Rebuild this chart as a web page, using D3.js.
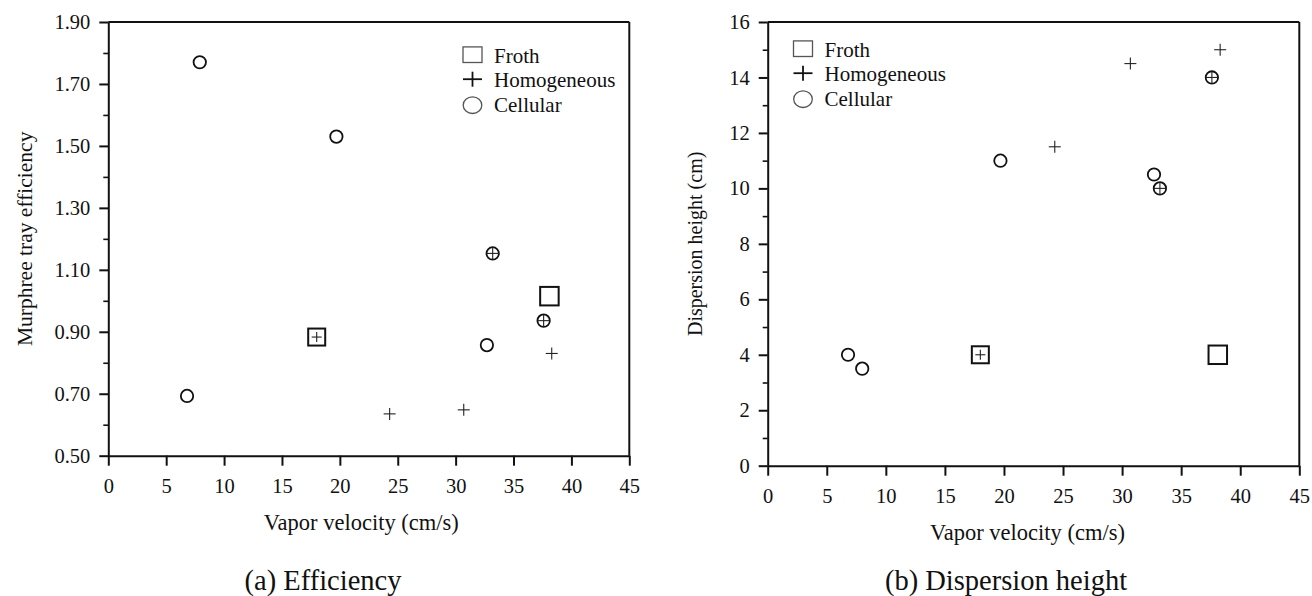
<!DOCTYPE html>
<html>
<head>
<meta charset="utf-8">
<script src="https://cdn.jsdelivr.net/npm/d3@7/dist/d3.min.js"></script>
<style>
  html, body { margin: 0; padding: 0; background: #fff; }
  svg { display: block; }
</style>
</head>
<body>
<svg id="chart" width="1312" height="596"></svg>
<script>
// ---------- data ----------
const legendLabels = ["Froth", "Homogeneous", "Cellular"];
const legendMarks = ["square", "plus", "circle"];

const xTicks = [0, 5, 10, 15, 20, 25, 30, 35, 40, 45];
const effTicks = [0.5, 0.7, 0.9, 1.1, 1.3, 1.5, 1.7, 1.9];
const effMinorTicks = [0.6, 0.8, 1.0, 1.2, 1.4, 1.6, 1.8];
const hTicks = [0, 2, 4, 6, 8, 10, 12, 14, 16];
const hMinorTicks = [1, 3, 5, 7, 9, 11, 13, 15];

// (a) Efficiency
const velA  = [6.8, 7.9, 19.7, 32.7, 33.2, 37.6, 24.3, 30.7, 38.3, 18.0, 38.1];
const effA  = [0.693, 1.77, 1.53, 0.857, 1.153, 0.936, 0.635, 0.648, 0.83, 0.883, 1.015];
const markA = ["circle", "circle", "circle", "circle", "circleplus", "circleplus",
               "plus", "plus", "plus", "squareplus", "square"];

// (b) Dispersion height
const velB  = [6.8, 8.0, 19.7, 32.7, 33.2, 37.6, 24.3, 30.7, 38.3, 18.0, 38.1];
const hB    = [4.0, 3.5, 11.0, 10.5, 10.0, 14.0, 11.5, 14.5, 15.0, 4.0, 4.0];
const markB = ["circle", "circle", "circle", "circle", "circleplus", "circleplus",
               "plus", "plus", "plus", "squareplus", "square"];

// ---------- drawing ----------
const svg = d3.select("#chart");
const INK = "#111";
const SERIF = '"Liberation Serif", "Times New Roman", Times, serif';

function serifText(sel, size) {
  return sel.style("font-family", SERIF).style("font-size", size + "px").attr("fill", INK);
}

function drawMark(g, type) {
  if (type === "circle" || type === "circleplus") {
    g.append("circle").attr("r", 6.2).attr("fill", "none").attr("stroke", INK).attr("stroke-width", 1.8);
  }
  if (type === "square" || type === "squareplus") {
    const s = type === "square" ? 18.5 : 17;
    g.append("rect").attr("x", -s/2).attr("y", -s/2).attr("width", s).attr("height", s)
      .attr("fill", "none").attr("stroke", INK).attr("stroke-width", 2);
  }
  let arm = null;
  if (type === "plus") arm = 6;
  if (type === "circleplus") arm = 6.2;
  if (type === "squareplus") arm = 5;
  if (arm !== null) {
    g.append("line").attr("x1", -arm).attr("x2", arm).attr("y1", 0).attr("y2", 0)
      .attr("stroke", "#222").attr("stroke-width", 1.1);
    g.append("line").attr("x1", 0).attr("x2", 0).attr("y1", -arm).attr("y2", arm)
      .attr("stroke", "#222").attr("stroke-width", 1.1);
  }
}

function panel(cfg) {
  const x = d3.scaleLinear().domain([0, 45]).range([cfg.left, cfg.right]);
  const y = d3.scaleLinear().domain(cfg.yDomain).range([cfg.bottom, cfg.top]);
  const g = svg.append("g");

  // frame (top & right)
  g.append("line").attr("x1", cfg.left).attr("x2", cfg.right).attr("y1", cfg.top).attr("y2", cfg.top)
    .attr("stroke", INK).attr("stroke-width", 2);
  g.append("line").attr("x1", cfg.right).attr("x2", cfg.right).attr("y1", cfg.top).attr("y2", cfg.bottom)
    .attr("stroke", INK).attr("stroke-width", 2);

  // x axis
  const xa = g.append("g").attr("transform", `translate(0,${cfg.bottom})`)
    .call(d3.axisBottom(x).tickValues(xTicks).tickSize(10).tickSizeOuter(0).tickPadding(13)
      .tickFormat(d3.format("d")));
  // y axis minor
  g.append("g").attr("transform", `translate(${cfg.left},0)`)
    .call(d3.axisLeft(y).tickValues(cfg.yMinor).tickSize(5).tickSizeOuter(0).tickFormat(""))
    .call(a => a.select(".domain").remove())
    .call(a => a.selectAll("line").attr("stroke", INK).attr("stroke-width", 1.6));
  // y axis major
  const ya = g.append("g").attr("transform", `translate(${cfg.left},0)`)
    .call(d3.axisLeft(y).tickValues(cfg.yTicks).tickSize(9).tickSizeOuter(0).tickPadding(9)
      .tickFormat(cfg.yFormat));
  [xa, ya].forEach(a => {
    a.select(".domain").attr("stroke", INK).attr("stroke-width", 2);
    a.selectAll(".tick line").attr("stroke", INK).attr("stroke-width", 2);
    serifText(a.selectAll("text"), 20.5);
  });

  // axis titles
  serifText(g.append("text"), 22.5)
    .attr("x", (cfg.left + cfg.right) / 2 - cfg.xTitleShift).attr("y", cfg.bottom + 74)
    .attr("text-anchor", "middle").text("Vapor velocity (cm/s)");
  serifText(g.append("text"), cfg.yTitleSize)
    .attr("transform", `translate(${cfg.yTitleX},${(cfg.top + cfg.bottom) / 2}) rotate(-90)`)
    .attr("text-anchor", "middle").text(cfg.yTitle);

  // caption
  serifText(g.append("text"), 28.5)
    .attr("x", cfg.captionX).attr("y", 590).attr("text-anchor", "middle").text(cfg.caption);

  // points
  cfg.xs.forEach((v, i) => {
    const m = g.append("g").attr("transform", `translate(${x(v)},${y(cfg.ys[i])})`);
    drawMark(m, cfg.marks[i]);
  });

  // legend
  const lg = g.append("g").attr("transform", `translate(${cfg.legendX},${cfg.legendY})`);
  legendLabels.forEach((lab, i) => {
    const row = lg.append("g").attr("transform", `translate(0,${i * 24.5})`);
    const sy = -8;
    if (legendMarks[i] === "square") {
      row.append("rect").attr("x", -9.5).attr("y", sy - 7.8).attr("width", 19).attr("height", 15.6)
        .attr("fill", "none").attr("stroke", "#555").attr("stroke-width", 1.3);
    } else if (legendMarks[i] === "plus") {
      row.append("line").attr("x1", -9.5).attr("x2", 9.5).attr("y1", sy).attr("y2", sy)
        .attr("stroke", INK).attr("stroke-width", 1.8);
      row.append("line").attr("x1", 0).attr("x2", 0).attr("y1", sy - 7.5).attr("y2", sy + 7.5)
        .attr("stroke", INK).attr("stroke-width", 1.8);
    } else {
      row.append("ellipse").attr("cx", 0).attr("cy", sy + 1.5).attr("rx", 9.3).attr("ry", 8.3)
        .attr("fill", "none").attr("stroke", "#555").attr("stroke-width", 1.3);
    }
    serifText(row.append("text"), 21).attr("x", 21.5).attr("y", 0).text(lab);
  });
}

panel({
  left: 108.3, right: 629.3, top: 22, bottom: 455.7,
  yDomain: [0.5, 1.9], yTicks: effTicks, yMinor: effMinorTicks, yFormat: d3.format(".2f"),
  yTitle: "Murphree tray efficiency", yTitleX: 32, yTitleSize: 21.5, xTitleShift: 7.5,
  caption: "(a) Efficiency", captionX: 323,
  xs: velA, ys: effA, marks: markA,
  legendX: 472.5, legendY: 62.7
});

panel({
  left: 767.7, right: 1299.3, top: 22, bottom: 465.7,
  yDomain: [0, 16], yTicks: hTicks, yMinor: hMinorTicks, yFormat: d3.format("d"),
  yTitle: "Dispersion height (cm)", yTitleX: 702, yTitleSize: 20, xTitleShift: 6,
  caption: "(b) Dispersion height", captionX: 1006,
  xs: velB, ys: hB, marks: markB,
  legendX: 803, legendY: 56.7
});
</script>
</body>
</html>
